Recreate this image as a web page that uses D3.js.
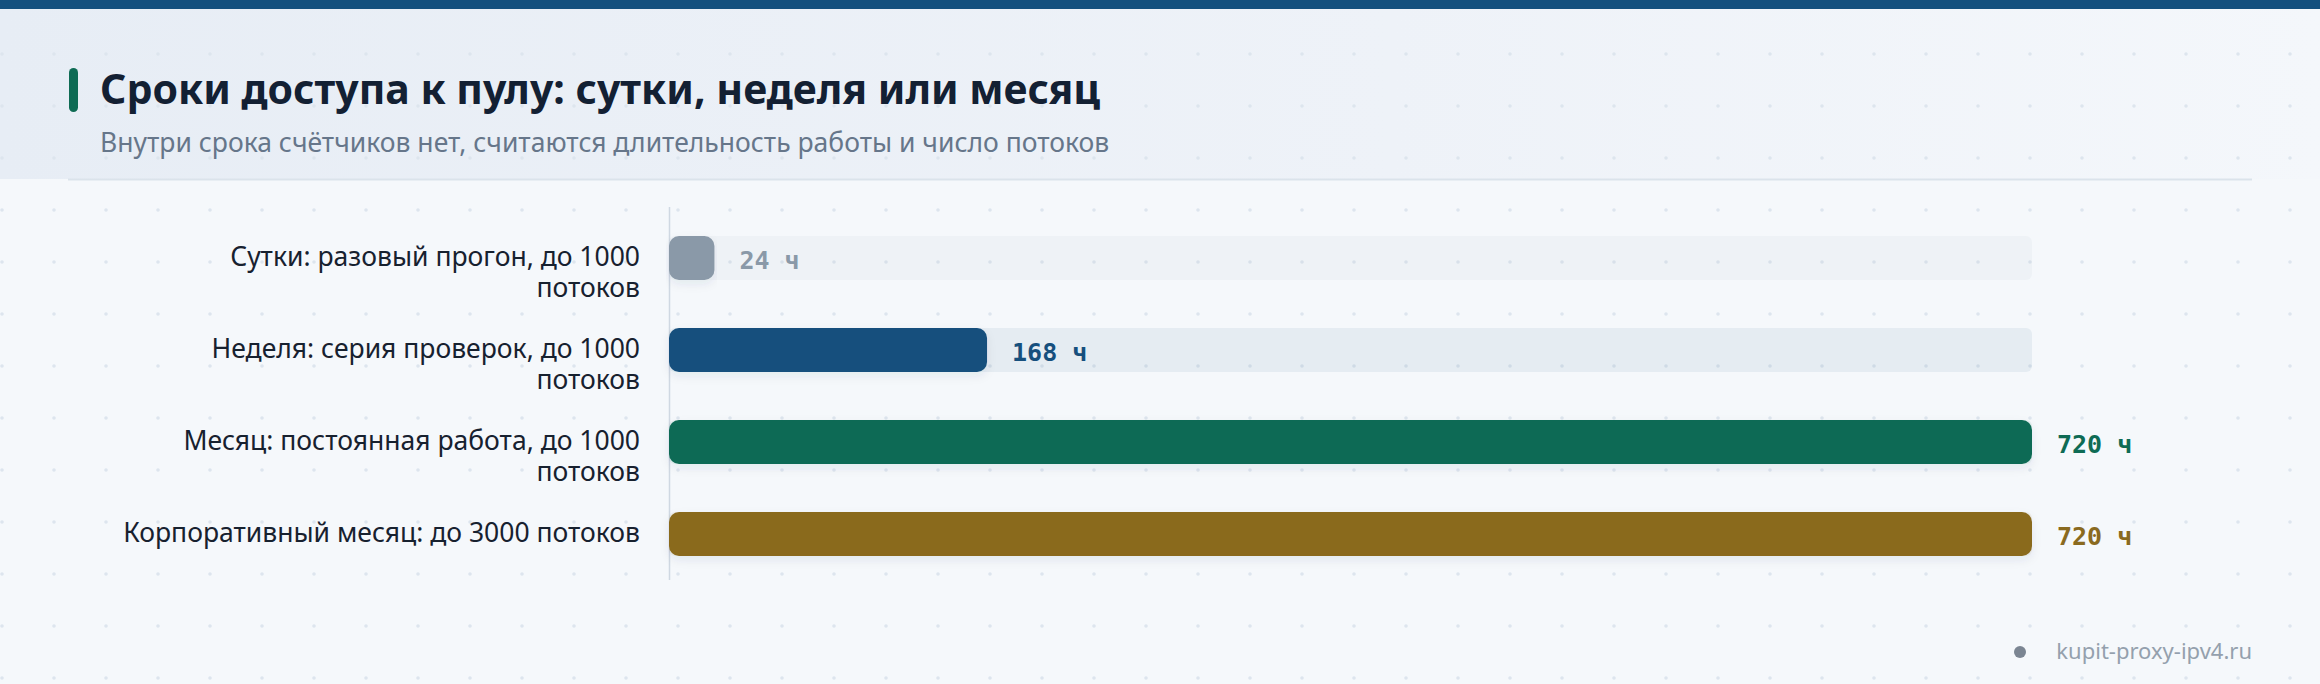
<!DOCTYPE html>
<html><head><meta charset="utf-8">
<script src="https://cdn.jsdelivr.net/npm/d3@7"></script>
<style>
html,body{margin:0;padding:0;background:#f5f8fb;}
svg{display:block;}
</style></head>
<body>
<svg id="chart" width="2320" height="684"></svg>
<script>
const categories = [
  "Сутки: разовый прогон, до 1000 потоков",
  "Неделя: серия проверок, до 1000 потоков",
  "Месяц: постоянная работа, до 1000 потоков",
  "Корпоративный месяц: до 3000 потоков"
];
const hours = [24, 168, 720, 720];
const valueLabels = ["24 ч", "168 ч", "720 ч", "720 ч"];
const barColors = ["#8a99a8", "#164f7d", "#0e6b54", "#8a6a1f"];
const title = "Сроки доступа к пулу: сутки, неделя или месяц";
const subtitle = "Внутри срока счётчиков нет, считаются длительность работы и число потоков";
const source = "kupit-proxy-ipv4.ru";

const W = 2320, H = 684;
const svg = d3.select("#chart");
const defs = svg.append("defs");

const hg = defs.append("linearGradient").attr("id","hdr").attr("x1","0").attr("x2","1").attr("y1","0").attr("y2","0");
hg.append("stop").attr("offset","0").attr("stop-color","#e7edf5");
hg.append("stop").attr("offset","0.6").attr("stop-color","#eef2f8");
hg.append("stop").attr("offset","1").attr("stop-color","#f4f7fb");

const pat = defs.append("pattern").attr("id","dots").attr("width",52).attr("height",52).attr("patternUnits","userSpaceOnUse");
pat.append("circle").attr("cx",2).attr("cy",2).attr("r",1.8).attr("fill","#dde5ee");

const sh = defs.append("filter").attr("id","sh").attr("x","-5%").attr("y","-40%").attr("width","110%").attr("height","200%");
sh.append("feDropShadow").attr("dx",0).attr("dy",4).attr("stdDeviation",5).attr("flood-color","#1e3a5f").attr("flood-opacity",0.08);

svg.append("rect").attr("width",W).attr("height",H).attr("fill","#f5f8fb");
svg.append("rect").attr("x",0).attr("y",9).attr("width",W).attr("height",170).attr("fill","url(#hdr)");
svg.append("rect").attr("width",W).attr("height",H).attr("fill","url(#dots)");
svg.append("rect").attr("x",0).attr("y",0).attr("width",W).attr("height",9).attr("fill","#14507e");
svg.append("line").attr("x1",68).attr("x2",2252).attr("y1",179.5).attr("y2",179.5).attr("stroke","#dbe3eb").attr("stroke-width",2);

svg.append("rect").attr("x",69).attr("y",68).attr("width",9).attr("height",44).attr("rx",4.5).attr("fill","#0e6b54");
svg.append("text").attr("x",100).attr("y",104).text(title)
  .attr("font-family","'Noto Sans', sans-serif").attr("font-weight",700).attr("font-size",41).attr("fill","#132033");
svg.append("text").attr("x",100).attr("y",152).text(subtitle)
  .attr("font-family","'Noto Sans', sans-serif").attr("font-size",26.5).attr("fill","#66768a");

const x = d3.scaleLinear().domain([0, 720]).range([669, 2032]);
const y = d3.scaleBand().domain(categories).range([212, 580]).padding(0);
const bh = 44;

svg.append("line").attr("x1",669.5).attr("x2",669.5).attr("y1",207).attr("y2",580).attr("stroke","#cfd8e2").attr("stroke-width",1.5);

const rows = svg.append("g").selectAll("g").data(categories).join("g");

rows.append("rect")
  .attr("x", x(0)).attr("y", d => y(d) + y.bandwidth()/2 - bh/2)
  .attr("width", x(720) - x(0)).attr("height", bh).attr("rx", 6)
  .attr("fill", (d,i) => barColors[i]).attr("fill-opacity", (d,i)=> i===0 ? 0.06 : 0.07);

rows.append("rect")
  .attr("x", x(0)).attr("y", d => y(d) + y.bandwidth()/2 - bh/2)
  .attr("width", (d,i) => x(hours[i]) - x(0)).attr("height", bh).attr("rx", 10)
  .attr("fill", (d,i) => barColors[i]).attr("filter","url(#sh)");

rows.append("text")
  .attr("x", (d,i) => x(hours[i]) + 25).attr("y", d => y(d) + y.bandwidth()/2).attr("dy","0.45em")
  .attr("font-family","'DejaVu Sans Mono', monospace").attr("font-weight",700).attr("font-size",25)
  .attr("fill", (d,i) => barColors[i]).text((d,i) => valueLabels[i]);

function wrapLines(s, maxChars){
  const words = s.split(" "); const lines=[]; let cur="";
  words.forEach(w => { const t = cur ? cur+" "+w : w; if (t.length > maxChars && cur){ lines.push(cur); cur=w; } else cur=t; });
  if (cur) lines.push(cur); return lines;
}
const lab = rows.append("text")
  .attr("x", 640).attr("y", d => y(d) + y.bandwidth()/2)
  .attr("text-anchor","end").attr("font-family","'Noto Sans', sans-serif").attr("font-size",26.5).attr("fill","#17212f");
lab.each(function(d){
  const t = d3.select(this);
  wrapLines(d, 37).forEach((ln,k) => t.append("tspan").attr("x",640).attr("dy", k===0 ? "0.3em" : "1.17em").text(ln));
});

svg.append("circle").attr("cx",2020).attr("cy",652).attr("r",6).attr("fill","#7b8592");
svg.append("text").attr("x",2252).attr("y",659).attr("text-anchor","end").text(source)
  .attr("font-family","'Noto Sans', sans-serif").attr("font-size",22).attr("fill","#94a0ad");
</script>
</body></html>
